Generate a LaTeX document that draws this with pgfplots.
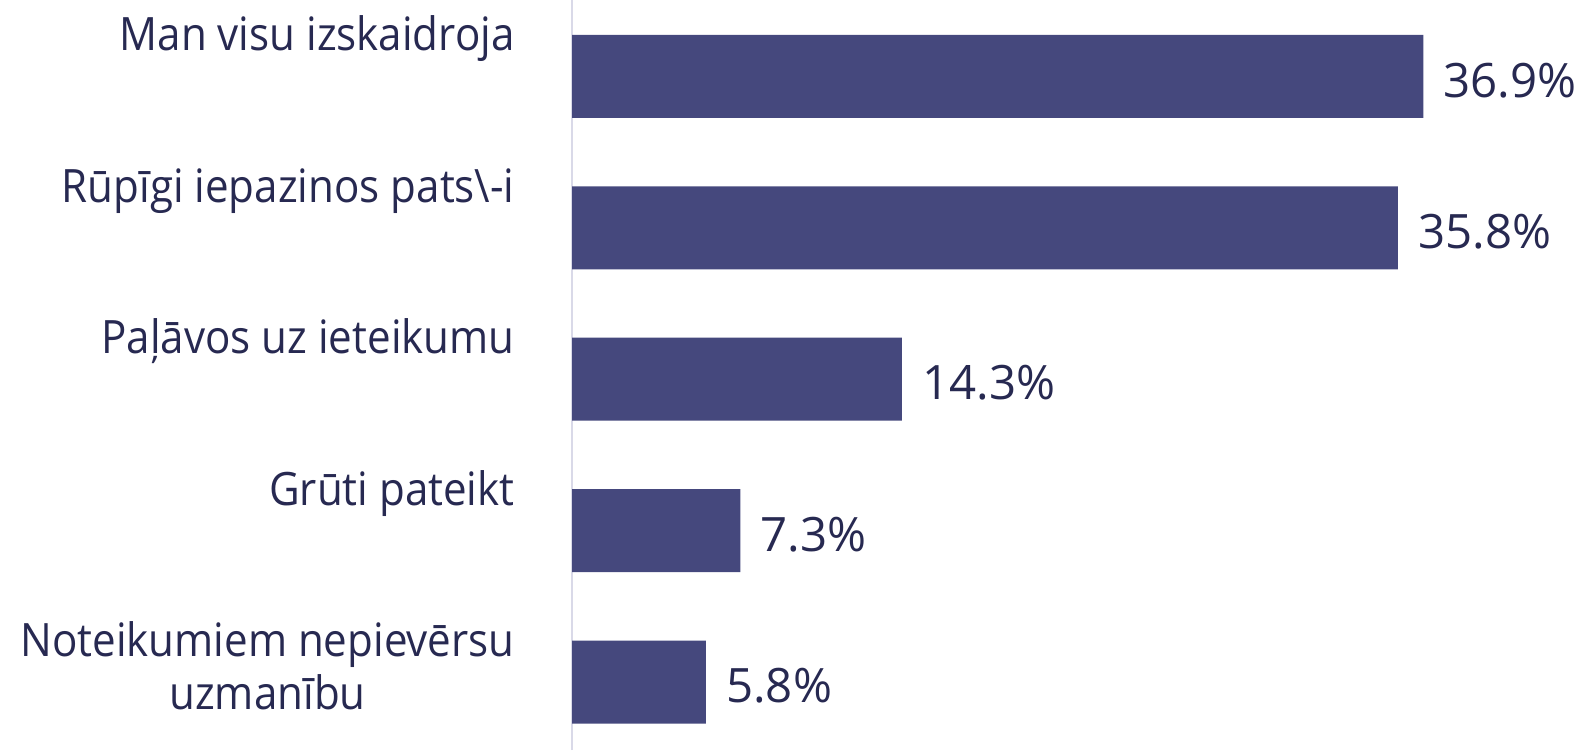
\documentclass[border=0pt]{standalone}
\usepackage{fontspec}
\setmainfont{Open Sans}
\newfontfamily\condfont{Open Sans}[FakeStretch=0.915]
\usepackage{pgfplots}
\pgfplotsset{compat=1.18}
\definecolor{barcol}{HTML}{45487D}
\definecolor{txtcol}{HTML}{272951}
\definecolor{linecol}{HTML}{D9D9E8}
\newcommand{\catf}{\condfont\fontsize{23}{26.3}\selectfont\color{txtcol}}
\begin{document}
\begin{tikzpicture}
\useasboundingbox (0,0) rectangle (791.5pt,375pt);
\begin{axis}[
  at={(286pt,0pt)}, anchor=south west,
  scale only axis, width=505.5pt, height=375pt,
  xbar, bar width=41.5pt,
  xmin=0, xmax=43.82, ymin=-0.449, ymax=4.505,
  axis y line*=left, hide x axis,
  y axis line style={draw=linecol, line width=0.8pt, -},
  ytick=\empty, yticklabels={},
  clip=false,
  nodes near coords={\pgfmathprintnumber[fixed,precision=1,fixed zerofill,assume math mode=true]{\pgfplotspointmeta}\%},
  every node near coord/.style={anchor=base west, inner sep=0pt, xshift=10pt, yshift=-10.35pt,
     font=\fontsize{23.7}{28}\selectfont, text=txtcol},
]
\addplot[fill=barcol, draw=none] coordinates {(36.9,4) (35.8,3) (14.3,2) (7.3,1) (5.8,0)};
\node[anchor=base east, inner sep=0pt, font=\catf] at (axis cs:0,4) [xshift=-28.5pt, yshift=12.75pt] {Man visu izskaidroja};
\node[anchor=base east, inner sep=0pt, font=\catf] at (axis cs:0,3) [xshift=-28.5pt, yshift=12.75pt] {Rūpīgi iepazinos pats\textbackslash{}-i};
\node[anchor=base east, inner sep=0pt, font=\catf] at (axis cs:0,2) [xshift=-28.5pt, yshift=12.75pt] {Paļāvos uz ieteikumu};
\node[anchor=base east, inner sep=0pt, font=\catf] at (axis cs:0,1) [xshift=-28.5pt, yshift=12.75pt] {Grūti pateikt};
\node[anchor=base east, inner sep=0pt, font=\catf] at (axis cs:0,0) [xshift=-28.5pt, yshift=12.75pt] {\begin{tabular}[t]{@{}c@{}}Noteikumiem nepievērsu\\uzmanību\end{tabular}};
\end{axis}
\end{tikzpicture}
\end{document}
